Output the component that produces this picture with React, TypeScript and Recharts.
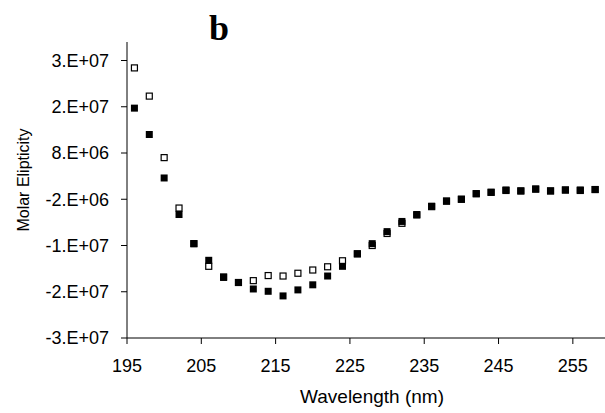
import React from 'react';
import { ScatterChart, Scatter, XAxis, YAxis } from 'recharts';

// wavelength (nm), one reading every 2 nm
const wavelengths = [
  196, 198, 200, 202, 204, 206, 208, 210, 212, 214, 216, 218, 220, 222, 224, 226,
  228, 230, 232, 234, 236, 238, 240, 242, 244, 246, 248, 250, 252, 254, 256, 258,
];

// filled squares
const filledValues = [
  1.77e7, 1.2e7, 0.26e7, -0.53e7, -1.16e7, -1.52e7, -1.89e7, -2.0e7, -2.14e7, -2.19e7, -2.29e7, -2.16e7,
  -2.05e7, -1.86e7, -1.65e7, -1.38e7, -1.16e7, -0.9e7, -0.68e7, -0.53e7, -0.35e7, -0.24e7, -0.2e7, -0.08e7,
  -0.05e7, -0.0e7, -0.02e7, 0.02e7, -0.02e7, 0.0e7, -0.0e7, 0.01e7,
];

// open squares
const openValues = [
  2.64e7, 2.03e7, 0.7e7, -0.39e7, -1.16e7, -1.65e7, -1.88e7, -2.0e7, -1.96e7, -1.85e7, -1.86e7, -1.8e7,
  -1.73e7, -1.66e7, -1.53e7, -1.38e7, -1.2e7, -0.94e7, -0.72e7, -0.54e7, -0.36e7, -0.24e7, -0.2e7, -0.08e7,
  -0.05e7, -0.01e7, -0.02e7, 0.02e7, -0.02e7, 0.0e7, -0.01e7, 0.01e7,
];

const xTicks = [195, 205, 215, 225, 235, 245, 255];
const yTicks = [-3.2e7, -2.2e7, -1.2e7, -0.2e7, 0.8e7, 1.8e7, 2.8e7];

const filledData = wavelengths.map((x, i) => ({ x, y: filledValues[i] }));
const openData = wavelengths.map((x, i) => ({ x, y: openValues[i] }));

const SANS = '"Liberation Sans", Arial, sans-serif';

// excel style "0.E+00"
const sciFormat = (v: number) => {
  if (v === 0) return '0.E+00';
  let e = Math.floor(Math.log10(Math.abs(v)));
  let m = Math.round(v / Math.pow(10, e));
  if (Math.abs(m) >= 10) {
    m = Math.round(m / 10);
    e += 1;
  }
  const exp = (e < 0 ? '-' : '+') + String(Math.abs(e)).padStart(2, '0');
  return `${m}.E${exp}`;
};

const FilledSquare = (props: any) => (
  <rect x={props.cx - 3.5} y={props.cy - 3.5} width={7} height={7} fill="#000" />
);

const OpenSquare = (props: any) => (
  <rect x={props.cx - 3} y={props.cy - 3} width={6} height={6} fill="#fff" stroke="#000" strokeWidth={1.2} />
);

const YTitle = () => (
  <text
    x={29}
    y={180}
    transform="rotate(-90 29 180)"
    textAnchor="middle"
    fontFamily={SANS}
    fontSize={16}
    fill="#000"
  >
    Molar Elipticity
  </text>
);

const XTitle = () => (
  <text x={372} y={403} textAnchor="middle" fontFamily={SANS} fontSize={19} fill="#000">
    Wavelength (nm)
  </text>
);

export default function App() {
  return (
    <div style={{ position: 'absolute', left: 0, top: 0, width: 605, height: 413, overflow: 'hidden', background: '#fff' }}>
      <ScatterChart width={610} height={413} margin={{ top: 42, right: 0, bottom: 0, left: 0 }}>
        <XAxis
          type="number"
          dataKey="x"
          domain={[195, 260]}
          ticks={xTicks}
          allowDataOverflow
          height={75}
          stroke="#000"
          tickSize={6}
          tickMargin={15}
          tick={{ fill: '#000', fontSize: 18, fontFamily: SANS }}
          label={<XTitle />}
        />
        <YAxis
          type="number"
          dataKey="y"
          domain={[-3.2e7, 3.2e7]}
          ticks={yTicks}
          allowDataOverflow
          width={127}
          stroke="#000"
          tickSize={6}
          tickMargin={12}
          tickFormatter={sciFormat}
          tick={{ fill: '#000', fontSize: 18, fontFamily: SANS }}
          label={<YTitle />}
        />
        <Scatter data={openData} shape={<OpenSquare />} isAnimationActive={false} />
        <Scatter data={filledData} shape={<FilledSquare />} isAnimationActive={false} />
      </ScatterChart>
      <svg width={605} height={413} style={{ position: 'absolute', left: 0, top: 0, pointerEvents: 'none' }}>
        <text x={209} y={40} fontFamily='"Liberation Serif", "Times New Roman", serif' fontWeight="bold" fontSize={36} fill="#000">
          b
        </text>
      </svg>
    </div>
  );
}
